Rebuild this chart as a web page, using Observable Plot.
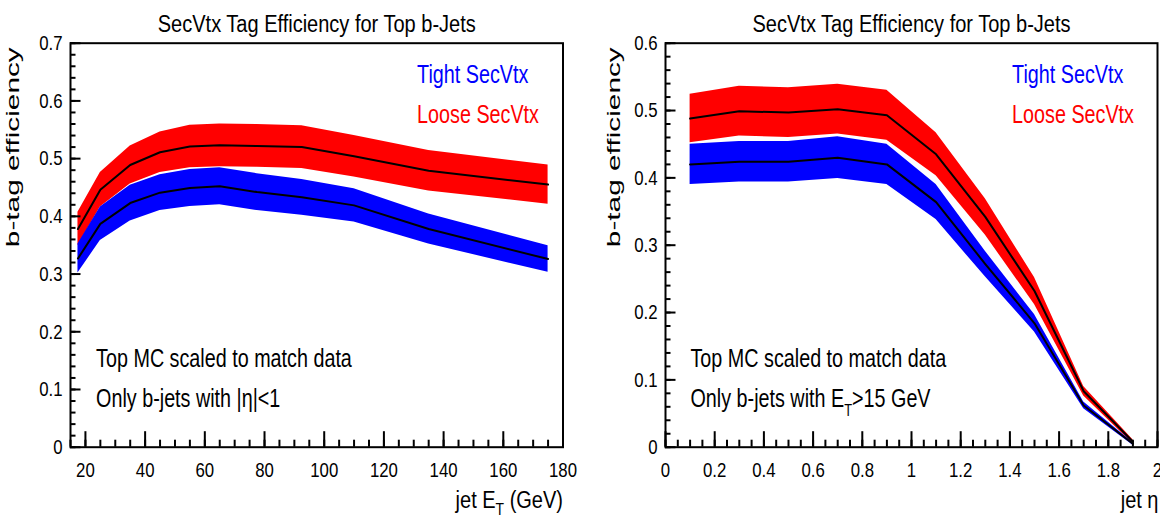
<!DOCTYPE html>
<html>
<head>
<meta charset="utf-8">
<script src="https://cdn.jsdelivr.net/npm/d3@7"></script>
<script src="https://cdn.jsdelivr.net/npm/@observablehq/plot@0.6"></script>
<style>
  body { margin: 0; background: #fff; }
  #wrap { position: relative; width: 1160px; height: 517px; overflow: hidden; background: #fff; }
  #wrap svg { position: absolute; top: 0; }
</style>
</head>
<body>
<div id="wrap"></div>
<script>
// ---- b-tag efficiency vs jet ET (|eta| < 1) ----
const etBins      = [17.5, 25, 35, 45, 55, 65, 77.5, 92.5, 110, 135, 175];
const looseEt     = [0.378, 0.446, 0.489, 0.511, 0.521, 0.523, 0.522, 0.520, 0.504, 0.479, 0.455];
const looseEtErr  = [0.029, 0.030, 0.033, 0.035, 0.037, 0.037, 0.037, 0.037, 0.036, 0.035, 0.034];
const tightEt     = [0.327, 0.387, 0.423, 0.441, 0.449, 0.452, 0.442, 0.433, 0.419, 0.378, 0.326];
const tightEtErr  = [0.025, 0.029, 0.031, 0.031, 0.032, 0.032, 0.032, 0.031, 0.029, 0.026, 0.023];

// ---- b-tag efficiency vs jet eta (ET > 15 GeV) ----
const etaBins     = [0.1, 0.3, 0.5, 0.7, 0.9, 1.1, 1.3, 1.5, 1.7, 1.9];
const looseEta    = [0.488, 0.499, 0.497, 0.502, 0.493, 0.435, 0.342, 0.232, 0.083, 0.008];
const looseEtaErr = [0.036, 0.037, 0.037, 0.037, 0.037, 0.032, 0.027, 0.020, 0.007, 0.003];
const tightEta    = [0.420, 0.424, 0.424, 0.430, 0.420, 0.364, 0.272, 0.184, 0.062, 0.005];
const tightEtaErr = [0.030, 0.030, 0.030, 0.031, 0.030, 0.026, 0.019, 0.013, 0.005, 0.002];

// ---- axis tick labels ----
const etTicks     = [20, 40, 60, 80, 100, 120, 140, 160, 180];
const etaTicks    = [0, 0.2, 0.4, 0.6, 0.8, 1, 1.2, 1.4, 1.6, 1.8, 2];
const effTicksEt  = [0, 0.1, 0.2, 0.3, 0.4, 0.5, 0.6, 0.7];
const effTicksEta = [0, 0.1, 0.2, 0.3, 0.4, 0.5, 0.6];

// ---- texts ----
const title      = "SecVtx Tag Efficiency for Top b-Jets";
const yTitle     = "b-tag efficiency";
const tightLabel = "Tight SecVtx";
const looseLabel = "Loose SecVtx";
const noteMC     = "Top MC scaled to match data";
const noteEt     = "Only b-jets with |η|<1";
const noteEta    = "Only b-jets with E_T>15 GeV";
const xTitleEt   = "jet E_T (GeV)";
const xTitleEta  = "jet η";

const RED = "#ff0000", BLUE = "#0000ff";
const SANS = "'Liberation Sans', Arial, Helvetica, sans-serif";

// horizontal condensing applied to each kind of text (condensed Helvetica look)
const squeeze = new Map([
  [title, 0.87],
  [tightLabel, 0.76], [looseLabel, 0.76],
  [noteMC, 0.76], [noteEt, 0.76], [noteEta, 0.76],
  [xTitleEt, 0.87], [xTitleEta, 0.87]
]);
const TICK_SQUEEZE = 0.8;

const W_SVG = 580, H_SVG = 517, M_TOP = 42.7, M_BOTTOM = 70.3;

function band(xs, v, e) {
  return xs.map((x, i) => ({x, v: v[i], lo: v[i] - e[i], hi: v[i] + e[i]}));
}

function fmt(d) { return `${d}`; }

function panel(cfg) {
  const fw = W_SVG - cfg.marginLeft - cfg.marginRight;
  const fh = H_SVG - M_TOP - M_BOTTOM;
  const loose = band(cfg.bins, cfg.loose, cfg.looseErr);
  const tight = band(cfg.bins, cfg.tight, cfg.tightErr);
  const line = {stroke: "black", strokeWidth: 2};
  const txt = {frameAnchor: "top-left", textAnchor: "start", lineAnchor: "bottom"};
  return Plot.plot({
    width: W_SVG,
    height: H_SVG,
    marginTop: M_TOP,
    marginBottom: M_BOTTOM,
    marginLeft: cfg.marginLeft,
    marginRight: cfg.marginRight,
    style: {fontFamily: SANS, fontSize: "21px", color: "black", background: "transparent", overflow: "visible"},
    x: {domain: cfg.xDomain},
    y: {domain: cfg.yDomain},
    marks: [
      // uncertainty bands and central values
      Plot.areaY(loose, {x: "x", y1: "lo", y2: "hi", fill: RED}),
      Plot.areaY(tight, {x: "x", y1: "lo", y2: "hi", fill: BLUE}),
      Plot.lineY(loose, {x: "x", y: "v", ...line}),
      Plot.lineY(tight, {x: "x", y: "v", ...line}),
      // inward ticks along the bottom and left edges
      Plot.tickX(cfg.xMinor, {x: d => d, ...line, insetTop: fh - 7}),
      Plot.tickX(cfg.xTicks, {x: d => d, ...line, insetTop: fh - 15.5}),
      Plot.tickY(cfg.yMinor, {y: d => d, ...line, insetRight: fw - 5.5}),
      Plot.tickY(cfg.yTicks, {y: d => d, ...line, insetRight: fw - 10.5}),
      Plot.frame({stroke: "black", strokeWidth: 2}),
      // tick labels
      Plot.axisX(cfg.xTicks, {tickSize: 0, tickPadding: 15, tickFormat: fmt, label: null}),
      Plot.axisY(cfg.yTicks, {tickSize: 0, tickPadding: 8, tickFormat: fmt, label: null}),
      // titles
      Plot.text([title], {frameAnchor: "top", dy: -11, lineAnchor: "bottom", fontSize: 23}),
      Plot.text([yTitle], {frameAnchor: "top-left", rotate: -90, textAnchor: "end", lineAnchor: "middle",
        dx: cfg.yTitleDx, dy: 4, fontSize: 18}),
      Plot.text([cfg.xTitle], {frameAnchor: "bottom-right", textAnchor: "end", lineAnchor: "bottom",
        dx: cfg.xTitleDx, dy: 60.6, fontSize: 23}),
      // legend
      Plot.text([tightLabel], {...txt, dx: 346.6, dy: 39.8, fontSize: 26, fill: BLUE}),
      Plot.text([looseLabel], {...txt, dx: 346.6, dy: 80.2, fontSize: 26, fill: RED}),
      // notes
      Plot.text([noteMC], {...txt, dx: cfg.noteDx, dy: 324, fontSize: 26}),
      Plot.text([cfg.note], {...txt, dx: cfg.noteDx, dy: 364, fontSize: 26})
    ]
  });
}

// Condense texts horizontally, lower the T of "E_T", stretch the y title.
function finish(svg) {
  d3.select(svg).selectAll("text").each(function () {
    const s = this.textContent;
    if (s === yTitle) {
      this.setAttribute("textLength", 200);
      this.setAttribute("lengthAdjust", "spacingAndGlyphs");
      return;
    }
    const isTick = !!this.closest('[aria-label$="tick label"]');
    const f = isTick ? TICK_SQUEEZE : squeeze.get(s);
    if (f) {
      const x = +this.getAttribute("x") || 0;
      if (x) this.removeAttribute("x");
      const t = this.getAttribute("transform") || "";
      this.setAttribute("transform", `${t} translate(${x},0) scale(${f},1)`);
    }
    const i = s.indexOf("_T");
    if (i < 0 || this.children.length) return;
    const big = s.startsWith("jet");
    this.textContent = "";
    const add = (t, attrs) => {
      const ts = document.createElementNS("http://www.w3.org/2000/svg", "tspan");
      ts.textContent = t;
      for (const k in attrs) ts.setAttribute(k, attrs[k]);
      this.appendChild(ts);
    };
    add(s.slice(0, i), {});
    add("T", {"font-size": big ? "16px" : "17px", dy: big ? 7.5 : 9});
    add(s.slice(i + 2), {dy: big ? -7.5 : -9});
  });
  return svg;
}

const left = finish(panel({
  xDomain: [15, 180], yDomain: [0, 0.7],
  xTicks: etTicks, xMinor: d3.range(15, 181, 5),
  yTicks: effTicksEt, yMinor: d3.range(0, 0.701, 0.02),
  bins: etBins, loose: looseEt, looseErr: looseEtErr, tight: tightEt, tightErr: tightEtErr,
  marginLeft: 70, marginRight: 17.5,
  xTitle: xTitleEt, xTitleDx: 0, yTitleDx: -57,
  note: noteEt, noteDx: 25.6
}));

const right = finish(panel({
  xDomain: [0, 2], yDomain: [0, 0.6],
  xTicks: etaTicks, xMinor: d3.range(0, 2.001, 0.05),
  yTicks: effTicksEta, yMinor: d3.range(0, 0.601, 0.02),
  bins: etaBins, loose: looseEta, looseErr: looseEtaErr, tight: tightEta, tightErr: tightEtaErr,
  marginLeft: 85, marginRight: 3,
  xTitle: xTitleEta, xTitleDx: 1, yTitleDx: -51,
  note: noteEta, noteDx: 25
}));

left.style.left = "0px";
right.style.left = "580px";
document.getElementById("wrap").append(left, right);
</script>
</body>
</html>
